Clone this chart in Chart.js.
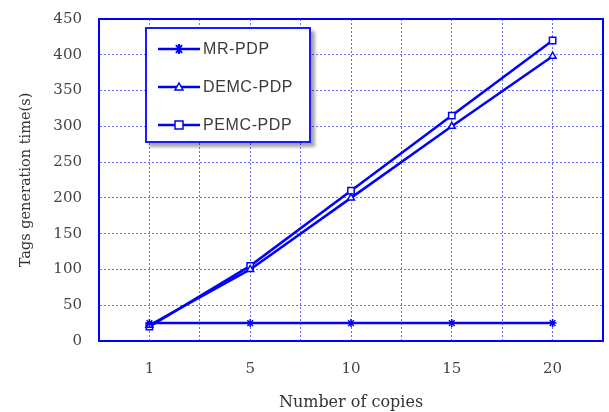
<!DOCTYPE html>
<html>
<head>
<meta charset="utf-8">
<script src="https://cdn.jsdelivr.net/npm/chart.js@4.4.1/dist/chart.umd.min.js"></script>
<style>
  html, body { margin: 0; padding: 0; background: #fff; }
  #wrap { position: relative; width: 609px; height: 412px; }
  #legend {
    position: absolute; left: 145px; top: 27px; width: 162px; height: 112px;
    border: 2px solid #1a1aff; background: #fff;
    box-shadow: 4px 4px 3px rgba(0,0,0,0.35);
    font-family: "Liberation Sans", Arial, sans-serif; font-size: 16px; color: #3a3a3a;
  }
  .item { position: absolute; left: 10px; height: 20px; display: flex; align-items: center; }
  .item span { margin-left: 2px; letter-spacing: 0.6px; }
</style>
</head>
<body>
<div id="wrap">
  <canvas id="chart" width="609" height="412"></canvas>
  <div id="legend"></div>
</div>
<script>
const copies = [1, 5, 10, 15, 20];
const mrPdp = [25, 25, 25, 25, 25];
const demcPdp = [22, 100, 200, 300, 398];
const pemcPdp = [20, 105, 210, 315, 420];
const yTicks = [0, 50, 100, 150, 200, 250, 300, 350, 400, 450];

const blue = '#0000ff';
const gridBlue = 'rgba(70, 70, 255, 0.8)';

const series = [
  { name: 'MR-PDP', data: mrPdp, style: 'star', radius: 4, fill: blue },
  { name: 'DEMC-PDP', data: demcPdp, style: 'triangle', radius: 4, fill: '#fff' },
  { name: 'PEMC-PDP', data: pemcPdp, style: 'rect', radius: 4.5, fill: '#fff' }
];

// solid frame round the plot area
const framePlugin = {
  id: 'frame',
  afterDatasetsDraw(chart) {
    const a = chart.chartArea;
    const ctx = chart.ctx;
    ctx.save();
    ctx.setLineDash([]);
    ctx.strokeStyle = blue;
    ctx.lineWidth = 2;
    ctx.strokeRect(a.left, a.top, a.right - a.left, a.bottom - a.top);
    ctx.restore();
  }
};

const ctx = document.getElementById('chart').getContext('2d');
new Chart(ctx, {
  type: 'line',
  data: {
    datasets: series.map(s => ({
      label: s.name,
      data: s.data.map((v, i) => ({ x: i + 1, y: v })),
      borderColor: blue,
      borderWidth: 2.5,
      pointStyle: s.style,
      pointRadius: s.radius,
      pointBackgroundColor: s.fill,
      pointBorderColor: blue,
      pointBorderWidth: 1.5,
      tension: 0
    }))
  },
  options: {
    responsive: false,
    animation: false,
    layout: { padding: { top: 19, right: 6, left: 0, bottom: 0 } },
    plugins: { legend: { display: false }, tooltip: { enabled: false } },
    scales: {
      x: {
        type: 'linear',
        min: 0.5,
        max: 5.5,
        afterFit: s => { s.height = 71; s.paddingLeft = 0; s.paddingRight = 0; },
        afterBuildTicks: s => {
          s.ticks = [];
          for (let v = 0.5; v <= 5.5; v += 0.5) s.ticks.push({ value: v });
        },
        ticks: {
          autoSkip: false,
          maxRotation: 0,
          padding: 19,
          color: '#444',
          font: { family: 'DejaVu Serif', size: 15 },
          callback: v => Number.isInteger(v) ? String(copies[v - 1]) : ''
        },
        grid: { color: gridBlue, lineWidth: 1, drawTicks: false },
        border: { color: blue, width: 2, dash: [2, 2] },
        title: {
          display: true,
          text: 'Number of copies',
          color: '#333',
          font: { family: 'DejaVu Serif', size: 16 },
          padding: { top: 0, bottom: 0 }
        }
      },
      y: {
        min: 0,
        max: 450,
        afterFit: s => { s.width = 99; s.paddingTop = 0; s.paddingBottom = 0; },
        afterBuildTicks: s => { s.ticks = yTicks.map(v => ({ value: v })); },
        ticks: {
          padding: 17,
          color: '#444',
          font: { family: 'DejaVu Serif', size: 15 }
        },
        grid: { color: gridBlue, lineWidth: 1, drawTicks: false },
        border: { color: blue, width: 2, dash: [2, 2] },
        title: {
          display: true,
          text: 'Tags generation time(s)',
          color: '#333',
          font: { family: 'DejaVu Serif', size: 14.5 },
          padding: { top: 18, bottom: 0 }
        }
      }
    }
  },
  plugins: [framePlugin]
});

// legend inside the plot area
const legend = document.getElementById('legend');
const tops = [10, 48, 86];
series.forEach((s, i) => {
  const item = document.createElement('div');
  item.className = 'item';
  item.style.top = tops[i] + 'px';
  let marker = '';
  if (s.style === 'star') marker = '<path d="M19 6 L25 14 M25 6 L19 14 M22 5 L22 15 M17 10 L27 10" stroke="#00f" stroke-width="2"/>';
  if (s.style === 'triangle') marker = '<path d="M22 6 L26 13 L18 13 Z" fill="#fff" stroke="#00f" stroke-width="1.5"/>';
  if (s.style === 'rect') marker = '<rect x="18" y="6" width="8" height="8" fill="#fff" stroke="#00f" stroke-width="1.5"/>';
  item.innerHTML = '<svg width="44" height="20"><line x1="1" y1="10" x2="43" y2="10" stroke="#00f" stroke-width="2.5"/>' +
    marker + '</svg><span>' + s.name + '</span>';
  legend.appendChild(item);
});
</script>
</body>
</html>
